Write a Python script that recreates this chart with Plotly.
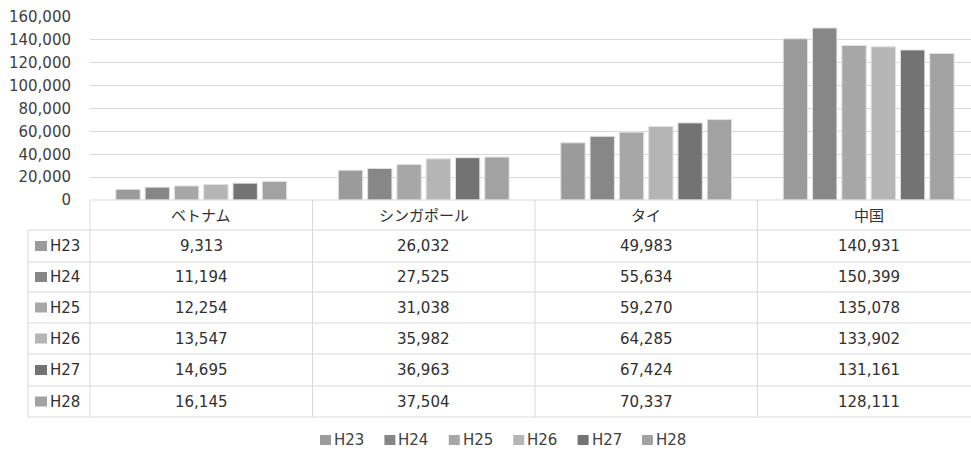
import plotly.graph_objects as go

categories = ["ベトナム", "シンガポール", "タイ", "中国"]
series_names = ["H23", "H24", "H25", "H26", "H27", "H28"]
h23 = [9313, 26032, 49983, 140931]
h24 = [11194, 27525, 55634, 150399]
h25 = [12254, 31038, 59270, 135078]
h26 = [13547, 35982, 64285, 133902]
h27 = [14695, 36963, 67424, 131161]
h28 = [16145, 37504, 70337, 128111]
values = [h23, h24, h25, h26, h27, h28]
colors = ["#9b9b9b", "#878787", "#a7a7a7", "#b5b5b5", "#737373", "#a2a2a2"]
y_ticks = [0, 20000, 40000, 60000, 80000, 100000, 120000, 140000, 160000]

W, H = 971, 450
FONT = "DejaVu Sans, Noto Sans CJK JP, sans-serif"
TXT = "#404040"
LINE = "#d9d9d9"
FS = 15

def px(x):
    return x / W

def py(y):
    return 1 - y / H

fig = go.Figure()
for name, vals, col in zip(series_names, values, colors):
    fig.add_trace(go.Bar(
        x=categories, y=vals, name=name, showlegend=False,
        marker=dict(color=col, line=dict(color="#e0e0e0", width=1)),
    ))

# table geometry (pixels)
tbl_left, tbl_mid, tbl_right = 28, 90, 971
header_top = 200
row_lines = [230, 262, 292, 323, 354, 386, 417]

shapes = []
shapes.append(dict(type="line", xref="paper", yref="paper", x0=px(tbl_mid), x1=px(tbl_right),
                   y0=py(header_top), y1=py(header_top), line=dict(color=LINE, width=1)))
for ry in row_lines:
    shapes.append(dict(type="line", xref="paper", yref="paper", x0=px(tbl_left), x1=px(tbl_right),
                       y0=py(ry), y1=py(ry), line=dict(color=LINE, width=1)))
shapes.append(dict(type="line", xref="paper", yref="paper", x0=px(tbl_left), x1=px(tbl_left),
                   y0=py(row_lines[0]), y1=py(row_lines[-1]), line=dict(color=LINE, width=1)))
shapes.append(dict(type="line", xref="paper", yref="paper", x0=px(tbl_mid), x1=px(tbl_mid),
                   y0=py(header_top), y1=py(row_lines[-1]), line=dict(color=LINE, width=1)))
for i in range(1, len(categories)):
    shapes.append(dict(type="line", xref="x", yref="paper", x0=i - 0.5, x1=i - 0.5,
                       y0=py(header_top), y1=py(row_lines[-1]), line=dict(color=LINE, width=1)))

annotations = []
for i, c in enumerate(categories):
    annotations.append(dict(x=i, xref="x", y=py((header_top + row_lines[0]) / 2 + 1), yref="paper",
                            text=c, showarrow=False, font=dict(size=FS, color="#303030", family=FONT),
                            xanchor="center", yanchor="middle"))
for r, (name, vals, col) in enumerate(zip(series_names, values, colors)):
    yc = (row_lines[r] + row_lines[r + 1]) / 2
    shapes.append(dict(type="rect", xref="paper", yref="paper", x0=px(35), x1=px(47),
                       y0=py(yc + 5), y1=py(yc - 5), fillcolor=col, line=dict(width=0)))
    annotations.append(dict(x=px(48), xref="paper", y=py(yc), yref="paper", text=name,
                            showarrow=False, font=dict(size=FS, color="#303030", family=FONT),
                            xanchor="left", yanchor="middle"))
    for i, v in enumerate(vals):
        annotations.append(dict(x=i, xref="x", y=py(yc), yref="paper", text=f"{v:,}",
                                showarrow=False, font=dict(size=FS, color="#303030", family=FONT),
                                xanchor="center", yanchor="middle"))

# legend drawn manually
leg_y = 440
leg_x0 = 320
leg_pitch = 64.4
for k, (name, col) in enumerate(zip(series_names, colors)):
    lx = leg_x0 + leg_pitch * k
    shapes.append(dict(type="rect", xref="paper", yref="paper", x0=px(lx), x1=px(lx + 11),
                       y0=py(leg_y + 5), y1=py(leg_y - 5), fillcolor=col, line=dict(width=0)))
    annotations.append(dict(x=px(lx + 12), xref="paper", y=py(leg_y), yref="paper", text=name,
                            showarrow=False, font=dict(size=FS, color="#404040", family=FONT),
                            xanchor="left", yanchor="middle"))

fig.update_layout(
    width=W, height=H,
    margin=dict(l=0, r=0, t=0, b=0, autoexpand=False),
    paper_bgcolor="white", plot_bgcolor="white",
    barmode="group", bargap=0.21, bargroupgap=0.17,
    font=dict(family=FONT, color=TXT, size=FS),
    xaxis=dict(domain=[px(90), 1.0], range=[-0.5, 3.46], showticklabels=False, showgrid=False,
               showline=False, zeroline=False, ticks="", automargin=False),
    yaxis=dict(domain=[py(200), py(17)], range=[0, 160000], tickvals=y_ticks,
               tickformat=",d", showgrid=True, gridcolor=LINE, gridwidth=1,
               zeroline=False, showline=False, ticks="", ticklabelstandoff=18,
               automargin=False, tickfont=dict(size=FS, color="#404040", family=FONT)),
    showlegend=False,
    shapes=shapes, annotations=annotations,
)

fig.write_html("out.html")
